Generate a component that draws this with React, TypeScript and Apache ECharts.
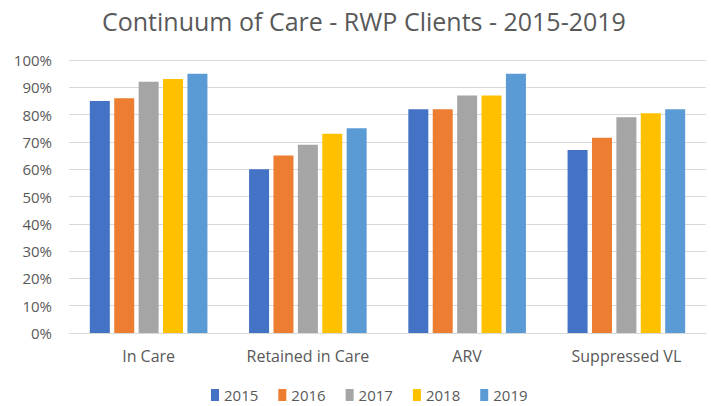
import React, { useEffect, useRef } from "react";
import * as echarts from "echarts";

const categories = ["In Care", "Retained in Care", "ARV", "Suppressed VL"];
const seriesNames = ["2015", "2016", "2017", "2018", "2019"];
const v2015 = [85, 60, 82, 67];
const v2016 = [86, 65, 82, 71.5];
const v2017 = [92, 69, 87, 79];
const v2018 = [93, 73, 87, 80.5];
const v2019 = [95, 75, 95, 82];
const colors = ["#4472C4", "#ED7D31", "#A5A5A5", "#FFC000", "#5B9BD5"];

export default function App() {
  const ref = useRef<HTMLDivElement>(null);
  useEffect(() => {
    const chart = echarts.init(ref.current!, null, { renderer: "svg" });
    const data = [v2015, v2016, v2017, v2018, v2019];
    const font = "Open Sans, Liberation Sans, sans-serif";
    chart.setOption({
      animation: false,
      backgroundColor: "#ffffff",
      title: {
        text: "Continuum of Care - RWP Clients - 2015-2019",
        left: 97,
        top: 3,
        textStyle: { color: "#595959", fontSize: 25, fontWeight: "normal", fontFamily: font },
      },
      legend: {
        top: 386,
        padding: 0,
        left: 211,
        itemWidth: 8,
        itemHeight: 12,
        itemGap: 20,
        icon: "rect",
        textStyle: { color: "#595959", fontSize: 15, fontFamily: font, lineHeight: 18 },
        data: seriesNames,
      },
      grid: { left: 69, right: 5, top: 60, bottom: 73 },
      xAxis: {
        type: "category",
        data: categories,
        axisLine: { lineStyle: { color: "#d9d9d9" } },
        axisTick: { show: false },
        axisLabel: { color: "#595959", fontSize: 16, fontFamily: font, margin: 15, interval: 0 },
      },
      yAxis: {
        type: "value",
        min: 0,
        max: 100,
        interval: 10,
        axisLine: { show: false },
        axisTick: { show: false },
        splitLine: { lineStyle: { color: "#d9d9d9" } },
        axisLabel: { color: "#595959", fontSize: 15, fontFamily: font, formatter: "{value}%", margin: 17 },
      },
      series: seriesNames.map((n, i) => ({
        name: n,
        type: "bar",
        data: data[i],
        barWidth: 20,
        barGap: "22%",
        itemStyle: { color: colors[i] },
      })),
    });
    return () => chart.dispose();
  }, []);
  return <div ref={ref} style={{ width: 711, height: 406, position: "absolute", left: 0, top: 0 }} />;
}
